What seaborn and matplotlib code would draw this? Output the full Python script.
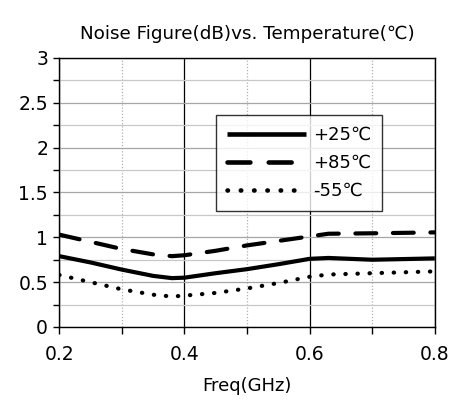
import matplotlib
matplotlib.use("Agg")
import matplotlib.pyplot as plt
import seaborn as sns
import pandas as pd
from matplotlib.ticker import MultipleLocator, FuncFormatter

freq = [0.2, 0.25, 0.3, 0.35, 0.38, 0.4, 0.45, 0.5, 0.55, 0.6, 0.63, 0.7, 0.8]
nf_25 = [0.79, 0.72, 0.64, 0.57, 0.545, 0.55, 0.60, 0.645, 0.70, 0.76, 0.77, 0.75, 0.765]
nf_85 = [1.03, 0.95, 0.87, 0.81, 0.79, 0.80, 0.85, 0.91, 0.96, 1.01, 1.04, 1.045, 1.055]
nf_m55 = [0.58, 0.50, 0.42, 0.36, 0.34, 0.35, 0.38, 0.43, 0.49, 0.56, 0.585, 0.60, 0.62]
series = ["+25℃", "+85℃", "-55℃"]

df = pd.concat([
    pd.DataFrame({"freq": freq, "nf": v, "series": s})
    for v, s in zip([nf_25, nf_85, nf_m55], series)
])

sns.set_style("white")
plt.rcParams["font.family"] = ["DejaVu Sans"]
plt.rcParams["text.color"] = "black"
plt.rcParams["axes.labelcolor"] = "black"
plt.rcParams["xtick.color"] = "black"
plt.rcParams["ytick.color"] = "black"

fig = plt.figure(figsize=(4.52, 4.03), dpi=100)
ax = fig.add_axes([0.131, 0.1886, 0.831, 0.6675])

sns.lineplot(data=df, x="freq", y="nf", hue="series", style="series",
             palette={s: "black" for s in series},
             dashes={series[0]: "", series[1]: (5.0, 4.0), series[2]: (0.1, 2.8)},
             linewidth=3, ax=ax, legend=True)

for ln in ax.get_lines():
    ln.set_dash_capstyle("round")
    ln.set_solid_capstyle("butt")

ax.set_xlim(0.2, 0.8)
ax.set_ylim(0, 3)
ax.xaxis.set_major_locator(MultipleLocator(0.2))
ax.xaxis.set_minor_locator(MultipleLocator(0.1))
ax.yaxis.set_major_locator(MultipleLocator(0.5))
ax.yaxis.set_minor_locator(MultipleLocator(0.25))
fmt = FuncFormatter(lambda v, p: f"{round(v, 2):g}")
ax.xaxis.set_major_formatter(fmt)
ax.yaxis.set_major_formatter(fmt)

ax.grid(which="major", axis="y", color="#a6a6a6", lw=0.9)
ax.grid(which="minor", axis="y", color="#c8c8c8", lw=0.9)
ax.grid(which="major", axis="x", color="black", lw=0.9)
ax.grid(which="minor", axis="x", color="#b0b0b0", lw=0.9, ls=(0, (1, 1.5)))
ax.set_axisbelow(True)

for sp in ax.spines.values():
    sp.set_color("black")
    sp.set_linewidth(1.0)

ax.tick_params(axis="both", which="both", direction="out", color="black",
               labelcolor="black", labelsize=13.5, width=1)
ax.tick_params(axis="y", which="both", length=4, left=True, pad=4)
ax.tick_params(axis="x", which="both", length=5, bottom=True, pad=8)

ax.set_xlabel("Freq(GHz)", fontsize=13, labelpad=9, color="black")
ax.set_ylabel("")
ax.set_title("Noise Figure(dB)vs. Temperature(℃)", fontsize=13.2, pad=14, color="black")

leg = ax.legend(loc="upper left", bbox_to_anchor=(0.417, 0.787), borderaxespad=0,
                frameon=True, fancybox=False, fontsize=13, handlelength=4.4,
                borderpad=0.6, labelspacing=0.55, handletextpad=0.4,
                edgecolor="black")
leg.get_frame().set_linewidth(1.0)
for h in leg.get_lines():
    h.set_linewidth(3.3)
    h.set_dash_capstyle("round")
for t in leg.get_texts():
    t.set_color("black")

fig.savefig("out.png", dpi=100, facecolor="white")
